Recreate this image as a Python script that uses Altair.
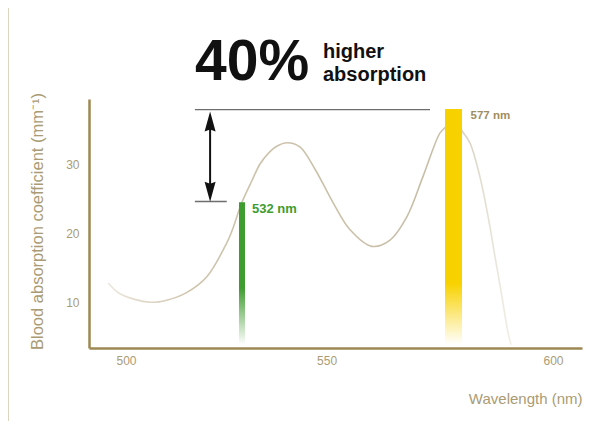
import altair as alt
import pandas as pd

# ---- data ----
wavelength = [494.5, 498.3, 506.6, 511.2, 516.7, 522.3, 527.8, 529.2, 532.0, 534.1,
              535.8, 537.5, 539.4, 541.6, 544.3, 547.6, 551.4, 555.0, 559.6, 563.5,
              567.1, 570.5, 574.1, 575.2, 577.0, 579.0, 580.8, 583.1, 585.0, 586.6,
              588.2, 589.6, 590.3]
absorption = [12.8, 11.2, 10.0, 10.3, 11.4, 13.7, 18.6, 20.3, 24.5, 27.6,
              30.0, 31.5, 32.6, 33.1, 32.5, 29.2, 24.4, 20.5, 18.1, 19.0,
              22.4, 28.2, 34.5, 35.3, 36.1, 34.8, 33.1, 28.2, 22.4, 16.6,
              10.8, 5.6, 3.85]

laser_nm = [532, 577]
laser_value = [24.5, 38.0]
laser_label = ["532 nm", "577 nm"]
bar_base = 3.85

# comparison annotation (arrow between the two levels)
ref_top = 37.9
ref_low = 24.6
ref_x_start = 519.0
ref_x_end_top = 572.0
ref_x_end_low = 527.8
arrow_x = 523.2
arrow_head_top = 36.2
arrow_head_low = 26.0

x_ticks = [500, 550, 600]
y_ticks = [10, 20, 30]

TAN = "#aa9b74"
AXIS = "#9c8853"
FONT = "Liberation Sans"

curve_df = pd.DataFrame({"wl": wavelength, "a": absorption})

xscale = alt.Scale(domain=[489.8, 500, 532, 577, 600, 606.7],
                   range=[0, 37, 153, 364.5, 464, 493], zero=False, nice=False)
yscale = alt.Scale(domain=[3.37, 39.45], zero=False, nice=False)

xaxis = alt.Axis(values=x_ticks, ticks=False, grid=False, domainColor=AXIS, domainWidth=2.5,
                 labelFont=FONT, labelFontSize=12, labelColor=TAN, labelPadding=7,
                 title="Wavelength (nm)", titleFont=FONT, titleFontSize=15,
                 titleFontWeight="normal", titleColor=TAN, titleX=493, titleY=55,
                 titleAlign="right", titleBaseline="alphabetic")
yaxis = alt.Axis(values=y_ticks, ticks=False, grid=False, domainColor=AXIS, domainWidth=2.5,
                 labelFont=FONT, labelFontSize=12, labelColor=TAN, labelPadding=10,
                 title="Blood absorption coefficient (mm⁻¹)", titleFont=FONT,
                 titleFontSize=16.5, titleFontWeight="normal", titleColor=TAN,
                 titleX=-52, titleY=122, titleAngle=270, titleAlign="center",
                 titleBaseline="middle")

curve = alt.Chart(curve_df).mark_line(
    interpolate="catmull-rom", strokeWidth=1.6,
    stroke=alt.LinearGradient(gradient="linear", x1=0, y1=0, x2=1, y2=0, stops=[
        alt.GradientStop(offset=0, color="#ece7dc"),
        alt.GradientStop(offset=0.2, color="#cfc5ae"),
        alt.GradientStop(offset=0.8, color="#c8bea7"),
        alt.GradientStop(offset=1, color="#f1eee6"),
    ])
).encode(
    x=alt.X("wl:Q", scale=xscale, axis=xaxis),
    y=alt.Y("a:Q", scale=yscale, axis=yaxis),
)

def laser_bar(i, color, width, solid):
    df = pd.DataFrame({"wl": [laser_nm[i]], "a": [laser_value[i]], "b": [bar_base]})
    return alt.Chart(df).mark_bar(
        size=width,
        fill=alt.LinearGradient(gradient="linear", x1=0, y1=0, x2=0, y2=1, stops=[
            alt.GradientStop(offset=0, color=color),
            alt.GradientStop(offset=solid, color=color),
            alt.GradientStop(offset=1, color="#ffffff"),
        ])
    ).encode(x=alt.X("wl:Q", scale=xscale), y=alt.Y("a:Q", scale=yscale), y2="b:Q")

green_bar = laser_bar(0, "#3f9c2f", 6, 0.6)
yellow_bar = laser_bar(1, "#f8d200", 17, 0.74)

green_lbl = alt.Chart(pd.DataFrame({"wl": [laser_nm[0]], "a": [laser_value[0]], "t": [laser_label[0]]})
                      ).mark_text(align="left", baseline="alphabetic", dx=10, dy=11, font=FONT,
                                  fontSize=13, fontWeight="bold", color="#3f9c2f"
                      ).encode(x=alt.X("wl:Q", scale=xscale), y=alt.Y("a:Q", scale=yscale), text="t:N")
yellow_lbl = alt.Chart(pd.DataFrame({"wl": [laser_nm[1]], "a": [laser_value[1]], "t": [laser_label[1]]})
                       ).mark_text(align="left", baseline="alphabetic", dx=17, dy=10, font=FONT,
                                   fontSize=11.5, fontWeight="bold", color="#a08d5d"
                       ).encode(x=alt.X("wl:Q", scale=xscale), y=alt.Y("a:Q", scale=yscale), text="t:N")

ref_df = pd.DataFrame({"x1": [ref_x_start, ref_x_start], "x2": [ref_x_end_top, ref_x_end_low],
                       "y": [ref_top, ref_low]})
ref_lines = alt.Chart(ref_df).mark_rule(color="#6e6e6e", strokeWidth=1.3).encode(
    x=alt.X("x1:Q", scale=xscale), x2="x2:Q", y=alt.Y("y:Q", scale=yscale))

shaft = alt.Chart(pd.DataFrame({"x": [arrow_x], "y1": [arrow_head_top], "y2": [arrow_head_low]})
                  ).mark_rule(color="#111111", strokeWidth=2).encode(
    x=alt.X("x:Q", scale=xscale), y=alt.Y("y1:Q", scale=yscale), y2="y2:Q")
head_up = alt.Chart(pd.DataFrame({"x": [arrow_x], "y": [arrow_head_top]})).mark_point(
    shape="M0,-1L0.55,1L0,0.8L-0.55,1Z", size=400, filled=True, color="#111111", opacity=1
).encode(x=alt.X("x:Q", scale=xscale), y=alt.Y("y:Q", scale=yscale))
head_down = alt.Chart(pd.DataFrame({"x": [arrow_x], "y": [arrow_head_low]})).mark_point(
    shape="M0,1L0.55,-1L0,-0.8L-0.55,-1Z", size=400, filled=True, color="#111111", opacity=1
).encode(x=alt.X("x:Q", scale=xscale), y=alt.Y("y:Q", scale=yscale))

# headline
big = alt.Chart(pd.DataFrame({"t": ["40%"]})).mark_text(
    align="left", baseline="alphabetic", font=FONT, fontSize=57, fontWeight="bold",
    color="#111111").encode(x=alt.value(106), y=alt.value(-19), text="t:N")
small = alt.Chart(pd.DataFrame({"t": ["higher\nabsorption"]})).mark_text(
    align="left", baseline="alphabetic", font=FONT, fontSize=20, fontWeight="bold",
    lineBreak="\n", lineHeight=23,
    color="#111111").encode(x=alt.value(234), y=alt.value(-41), text="t:N")

# thin frame of the figure
frame_top = alt.Chart(pd.DataFrame({"k": [0]})).mark_rule(color="#cfc7ab", strokeWidth=1.5).encode(
    x=alt.value(-81), x2=alt.value(506), y=alt.value(-95))
frame_left = alt.Chart(pd.DataFrame({"k": [0]})).mark_rule(color="#cfc7ab", strokeWidth=1.5).encode(
    x=alt.value(-81), y=alt.value(-95), y2=alt.value(330))
frame_right = alt.Chart(pd.DataFrame({"k": [0]})).mark_rule(color="#f0ecdf", strokeWidth=1).encode(
    x=alt.value(499), y=alt.value(-95), y2=alt.value(330))

chart = alt.layer(
    frame_top, frame_left, frame_right,
    curve, green_bar, yellow_bar, green_lbl, yellow_lbl,
    ref_lines, shaft, head_up, head_down, big, small,
).properties(
    width=493, height=249,
    autosize=alt.AutoSizeParams(type="none"),
    padding={"left": 81, "top": 91, "right": 5, "bottom": 73},
    background="#ffffff",
).configure_view(strokeWidth=0)

chart.save("out.html", embed_options={"renderer": "svg", "actions": False})
